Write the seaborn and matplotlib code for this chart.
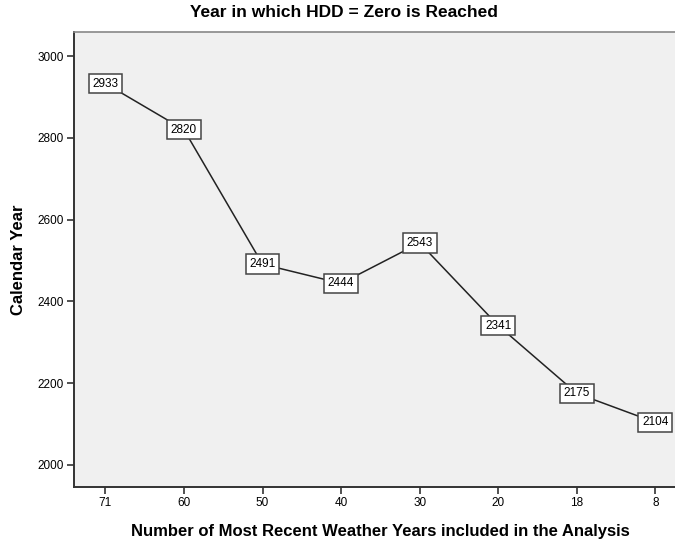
import matplotlib
matplotlib.use("Agg")
import matplotlib.pyplot as plt
import seaborn as sns
import pandas as pd

# Number of most recent weather years in each analysis, and the projected year
weather_years = ["71", "60", "50", "40", "30", "20", "18", "8"]
zero_hdd_year = [2933, 2820, 2491, 2444, 2543, 2341, 2175, 2104]
y_ticks = [2000, 2200, 2400, 2600, 2800, 3000]

df = pd.DataFrame({"years": weather_years, "calendar_year": zero_hdd_year})

sns.set_theme(style="white")
plt.rcParams["font.family"] = ["Liberation Sans", "DejaVu Sans"]
plt.rcParams.update({"text.color": "black", "axes.labelcolor": "black",
                     "xtick.color": "black", "ytick.color": "black"})

fig = plt.figure(figsize=(6.75, 5.39), dpi=100)
ax = fig.add_axes([0.1096, 0.0965, 0.8904, 0.8441])
ax.set_facecolor("#f0f0f0")

sns.lineplot(data=df, x="years", y="calendar_year", sort=False,
             color="#222222", linewidth=1.1, ax=ax)

for i, (lab, val) in enumerate(zip(weather_years, zero_hdd_year)):
    ax.text(i, val, str(val), ha="center", va="center", fontsize=8.5, color="black",
            bbox=dict(boxstyle="square,pad=0.32", fc="white", ec="#444444", lw=1.1))

ax.set_xlim(-0.4, 7.25)
ax.set_ylim(1946, 3059)
ax.set_yticks(y_ticks)
ax.set_yticklabels([str(t) for t in y_ticks], fontsize=8.5)
ax.tick_params(axis="both", direction="out", length=5, width=1.2, color="#333333",
               labelsize=8.5, labelcolor="black", pad=2.5, left=True, bottom=True)

for side in ["left", "bottom"]:
    ax.spines[side].set_color("#333333")
    ax.spines[side].set_linewidth(1.4)
ax.spines["top"].set_color("#888888")
ax.spines["top"].set_linewidth(1.2)
ax.spines["right"].set_visible(False)

ax.set_xlabel("Number of Most Recent Weather Years included in the Analysis",
              fontsize=12, fontweight="bold", labelpad=8, color="black")
ax.xaxis.set_label_coords(0.51, -0.082)
ax.set_ylabel("Calendar Year", fontsize=12, fontweight="bold", labelpad=8, color="black")
fig.text(0.51, 0.977, "Year in which HDD = Zero is Reached", ha="center", va="center",
         fontsize=12.5, fontweight="bold", color="black")

fig.savefig("out.png", dpi=100)
